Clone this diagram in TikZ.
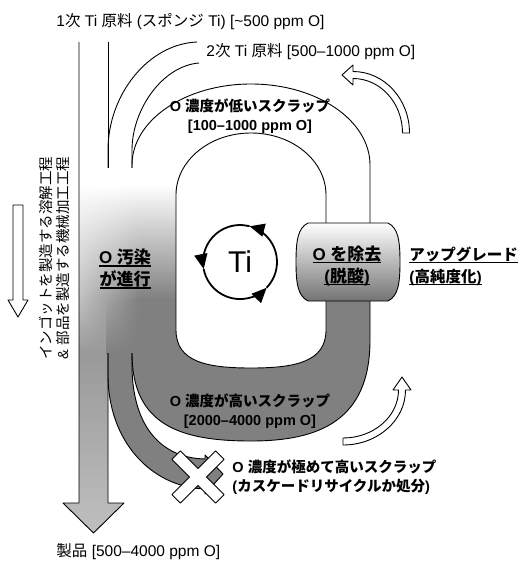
\documentclass[tikz,border=0pt]{standalone}
\usepackage{fontspec}
\setmainfont{Liberation Sans}
\newfontfamily\cjk{Noto Sans CJK JP}
\usetikzlibrary{arrows.meta}
\newcommand\J[1]{{\cjk #1}}
\newcommand\ulx[1]{\setbox0\hbox{#1}\rlap{\rule[-2.8pt]{\wd0}{1.2pt}}\box0}
\definecolor{dg}{gray}{0.5}
\tikzset{
  reg/.style={inner sep=0pt, font=\fontsize{15.5}{18}\selectfont},
  scrap/.style={inner sep=0pt, align=center, font=\fontsize{14.5}{18.5}\selectfont\bfseries},
  big/.style={inner sep=0pt, align=center, font=\fontsize{17}{22}\selectfont\bfseries},
  hollow/.style={draw=black, fill=white, line width=0.9pt},
  tiarc/.style={line width=1.8pt, -{Triangle[length=15pt,width=13pt]}}
}
\begin{document}
\begin{tikzpicture}[x=1pt,y=-1pt,line width=0.9pt,line join=round]
\useasboundingbox (0,0) rectangle (526,561);

% lower (gray) part of the loop
\begin{scope}
\clip (0,262) rectangle (526,561);
\fill[dg] (132,165) arc[start angle=180,end angle=360,x radius=119,y radius=81]
  -- (370,340) .. controls (370,420) and (320,441) .. (251,441)
  .. controls (180,441) and (132,425) .. (132,353) -- cycle;
\end{scope}
% inner hole
\fill[white] (176,195) arc[start angle=180,end angle=360,x radius=75,y radius=62]
  -- (326,330) .. controls (326,362) and (295,368) .. (251,368)
  .. controls (207,368) and (176,362) .. (176,330) -- cycle;
% very high O scrap band
\fill[dg] (108,353) -- (108,375) .. controls (108,440) and (150,487) .. (205,489)
  -- (205,494) -- (223,474) -- (205,455) -- (205,459)
  .. controls (160,458) and (132,425) .. (132,365) -- (132,353) -- cycle;
% lower part of main arrow
\begin{scope}
\clip (79,353) -- (79,503) -- (63,503) -- (93.5,533) -- (124,503) -- (108,503) -- (108,353) -- cycle;
\shade[top color=black!40, bottom color=black!25] (60,353) rectangle (126,534);
\end{scope}
% contamination shading
\foreach \i in {0,...,31}{
  \pgfmathsetmacro\xa{79+3*\i}
  \pgfmathsetmacro\xb{\xa+3.3}
  \pgfmathsetmacro\v{min(50,25+(\xa-79)*0.42)}
  \pgfmathsetmacro\w{ifthenelse(\xa<104,40,50)}
  \shade[top color=white,bottom color=black!\v] (\xa,185) rectangle (\xb,300);
  \shade[top color=black!\v,bottom color=black!\w] (\xa,299.5) rectangle (\xb,353.5);
}

% outlines
\draw (79,42) -- (79,503) -- (63,503) -- (93.5,533) -- (124,503) -- (108,503) -- (108,353);
\draw (108,42) -- (108,168);
\draw (197,42) .. controls (148,44) and (108,95) .. (108,150) -- (108,168);
\draw (199,63) .. controls (162,66) and (132,110) .. (132,150) -- (132,168);
\draw (132,168) -- (132,165) arc[start angle=180,end angle=360,x radius=119,y radius=81] -- (370,223);
\draw (370,301) -- (370,340) .. controls (370,420) and (320,441) .. (251,441)
  .. controls (180,441) and (132,425) .. (132,353);
\draw (176,195) arc[start angle=180,end angle=360,x radius=75,y radius=62]
  -- (326,330) .. controls (326,362) and (295,368) .. (251,368)
  .. controls (207,368) and (176,362) .. (176,330) -- cycle;
\draw (108,353) -- (108,375) .. controls (108,440) and (150,487) .. (205,489)
  -- (205,494) -- (223,474) -- (205,455) -- (205,459)
  .. controls (160,458) and (132,425) .. (132,365) -- (132,353);

% deoxidation cylinder
\begin{scope}
\clip (308,223) -- (388,223) .. controls (398,228) and (400,240) .. (400,262)
  .. controls (400,284) and (398,296) .. (388,301) -- (308,301)
  .. controls (298,296) and (296,284) .. (296,262)
  .. controls (296,240) and (298,228) .. (308,223) -- cycle;
\shade[top color=white, middle color=black!8, bottom color=black!55] (290,223) rectangle (405,301);
\end{scope}
\draw (308,223) -- (388,223) .. controls (398,228) and (400,240) .. (400,262)
  .. controls (400,284) and (398,296) .. (388,301) -- (308,301)
  .. controls (298,296) and (296,284) .. (296,262)
  .. controls (296,240) and (298,228) .. (308,223) -- cycle;

% small hollow down arrow
\draw[hollow] (13,205) -- (23,205) -- (23,300) -- (28,300) -- (18,317) -- (8,300) -- (13,300) -- cycle;
% top-right hollow arrow
\draw[hollow] (409.5,133) arc[start angle=0,end angle=-90,x radius=56.5,y radius=61.5]
  -- (353,65) -- (342,75) -- (353,85) -- (353,78.5)
  arc[start angle=-90,end angle=0,x radius=49.5,y radius=54.5] -- cycle;
% lower hollow arrow
\draw[hollow] (343,445) arc[start angle=90,end angle=0,x radius=62.5,y radius=55]
  -- (411,390) -- (402,377) -- (393,390) -- (398.5,390)
  arc[start angle=0,end angle=90,x radius=55.5,y radius=48] -- cycle;

% cross
\begin{scope}[shift={(198,477)},rotate=45]
\draw[hollow] (31,6) -- (6,6) -- (6,31) -- (-6,31) -- (-6,6) -- (-31,6) -- (-31,-6)
  -- (-6,-6) -- (-6,-31) -- (6,-31) -- (6,-6) -- (31,-6) -- cycle;
\end{scope}

% Ti cycle
\coordinate (tc) at (240,262);
\draw[tiarc] (266.6,287.7) arc[start angle=44,end angle=-75,radius=37];
\draw[tiarc] (249.6,226.3) arc[start angle=-75,end angle=-191,radius=37];
\draw[tiarc] (203.7,269.1) arc[start angle=-191,end angle=-316,radius=37];
\node[inner sep=0pt, font=\fontsize{30}{30}\selectfont] (ti) at (tc) {Ti};

% texts
\node[reg, anchor=west] (t1) at (56,22) {1\J{次} Ti \J{原料} (\J{スポンジ} Ti) [\textasciitilde500 ppm O]};
\node[reg, anchor=west] (t2) at (206,52) {2\J{次} Ti \J{原料} [500–1000 ppm O]};
\node[scrap] (low) at (250,116) {O \J{濃度が低いスクラップ}\\{}[100–1000 ppm O]};
\node[scrap] (high) at (250,411) {O \J{濃度が高いスクラップ}\\{}[2000–4000 ppm O]};
\node[scrap, anchor=west, align=left] (vhigh) at (232,477) {O \J{濃度が極めて高いスクラップ}\\(\J{カスケードリサイクルか処分})};
\node[reg, anchor=west] (prod) at (56,552) {\J{製品} [500–4000 ppm O]};
\node[big] (cont) at (125,269) {\ulx{O \J{汚染}}\\\ulx{\J{が進行}}};
\node[big] (rem) at (347,266) {\ulx{O \J{を除去}}\\\ulx{(\J{脱酸})}};
\node[big, anchor=west, align=left, font=\fontsize{15.5}{22}\selectfont\bfseries] (up) at (409,266) {\ulx{\J{アップグレード}}\\\ulx{(\J{高純度化})}};
\node[reg, rotate=90, align=center, font=\fontsize{14.5}{17}\selectfont] (proc) at (54,258)
  {\J{インゴットを製造する溶解工程}\\\& \J{部品を製造する機械加工工程}};
\end{tikzpicture}
\end{document}
